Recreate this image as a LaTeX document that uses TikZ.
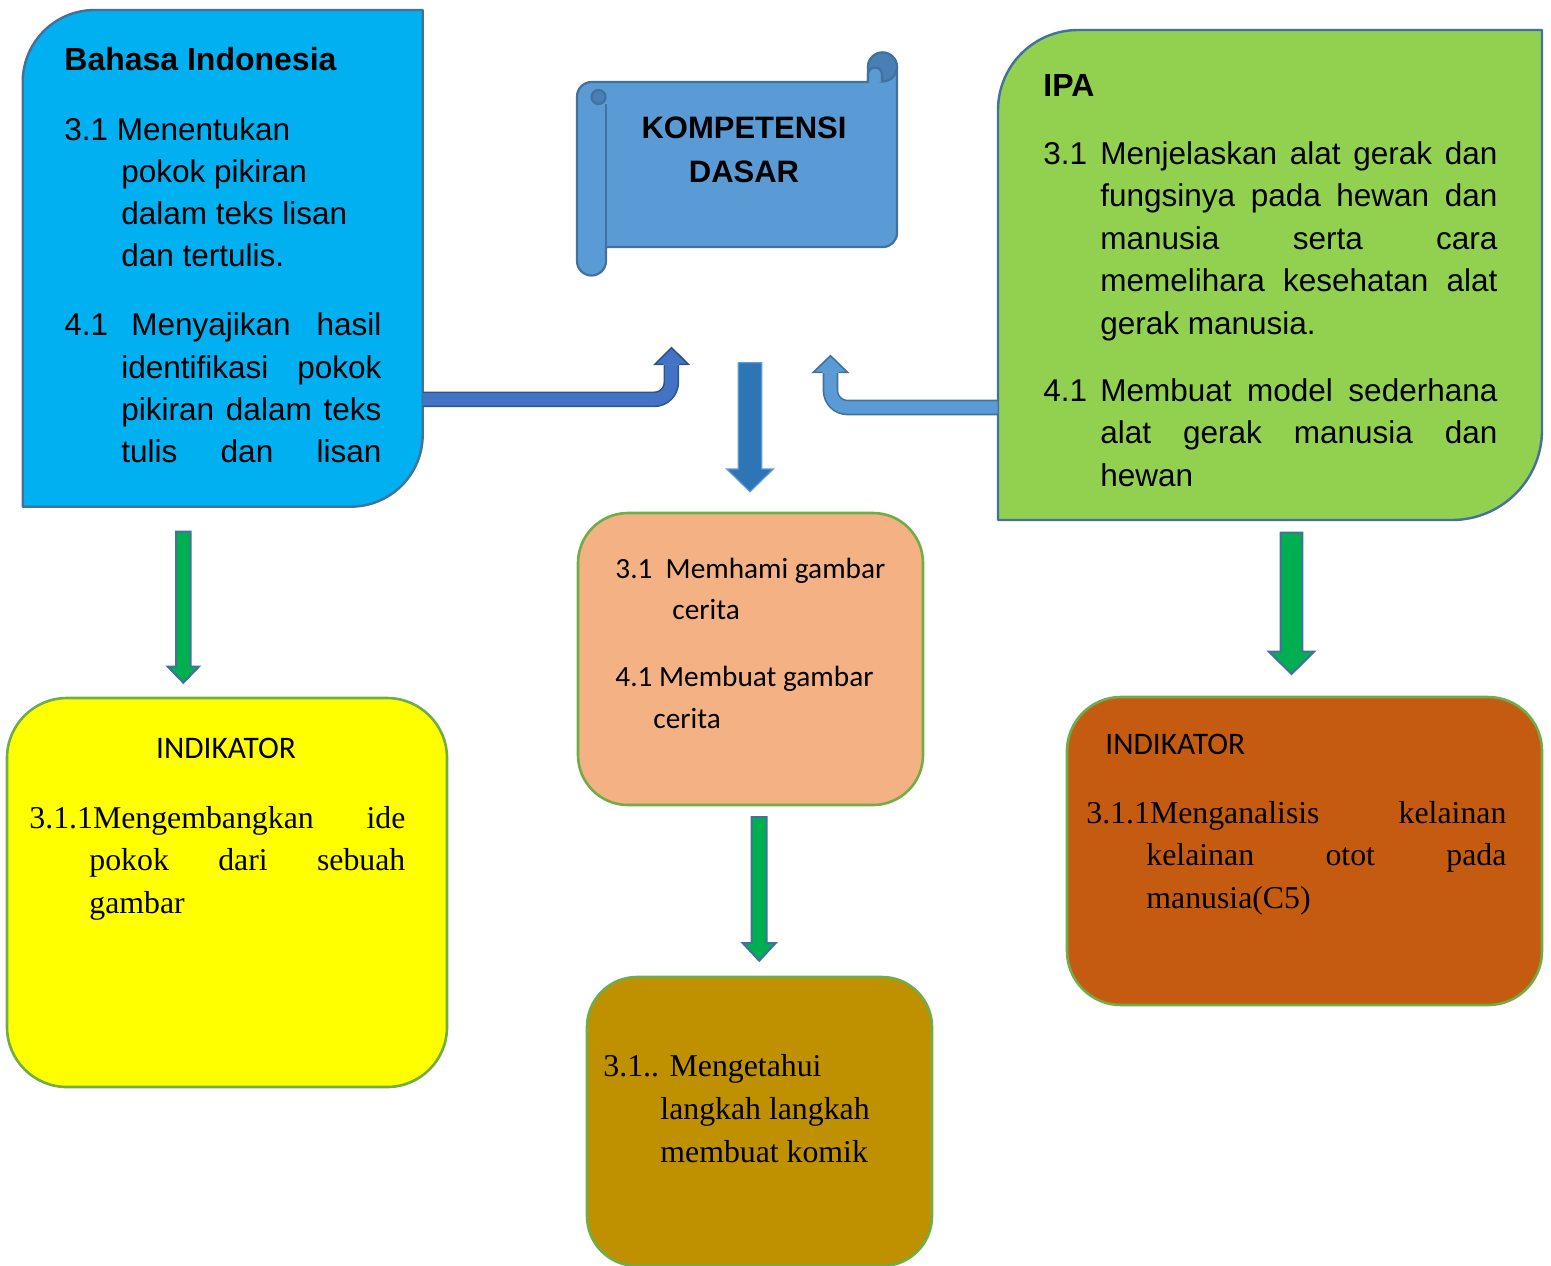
\documentclass[tikz,border=0pt]{standalone}
\usepackage{fontspec}
\setmainfont{Liberation Sans}
\newfontfamily\calfont{Carlito}
\newfontfamily\timfont{Liberation Serif}
\definecolor{bicyan}{RGB}{0,176,240}
\definecolor{ipagreen}{RGB}{146,208,80}
\definecolor{bdblue}{RGB}{65,113,156}
\definecolor{scrollfill}{RGB}{91,155,213}
\definecolor{scrolldark}{RGB}{72,128,182}
\definecolor{lfill}{RGB}{68,114,196}
\definecolor{lborder}{RGB}{47,82,143}
\definecolor{mfill}{RGB}{46,117,182}
\definecolor{mborder}{RGB}{91,155,213}
\definecolor{gfill}{RGB}{0,176,80}
\definecolor{boxgreen}{RGB}{112,173,71}
\definecolor{yel}{RGB}{255,255,0}
\definecolor{orng}{RGB}{244,177,131}
\definecolor{brwn}{RGB}{197,90,17}
\definecolor{gold}{RGB}{191,144,0}
\newcommand\cl[1]{\hbox to 0pt{\hss#1\hss}}
\newcommand\dnarrow[7]{\draw[#1] ({#2-#6},#3) -- ({#2+#6},#3) -- ({#2+#6},#4) -- ({#2+#7},#4) -- (#2,#5) -- ({#2-#7},#4) -- ({#2-#6},#4) -- cycle;}
\begin{document}
\begin{tikzpicture}[x=0.5pt,y=-0.5pt,
  ghost/.style={inner sep=0pt, draw=none},
  txt/.style={inner sep=0pt, anchor=base west},
  rbox/.style={draw=boxgreen, line width=1.3pt, rounded corners=#1, inner sep=0pt},
  bentarrow/.style={draw=#1, line width=0.8pt, double distance=6.2pt, rounded corners=8.5pt},
  garrow/.style={fill=gfill, draw=bdblue, line width=1pt, line join=miter},
  marrow/.style={fill=mfill, draw=mborder, line width=0.6pt, line join=miter},
  arial/.style={font=\fontsize{15.75}{21.2}\selectfont},
  calib/.style={font=\calfont\fontsize{14.65}{20.75}\selectfont},
  times/.style={font=\timfont\fontsize{15.9}{21.25}\selectfont}]
\path[use as bounding box, clip] (0,0) rectangle (1551,1265);

% ---------- Bahasa Indonesia box ----------
\path[fill=bicyan, draw=bdblue, line width=1.2pt, line join=round]
  (22.7,506.7) -- (22.7,82) .. controls (22.7,42.2) and (54.9,10) .. (94.7,10)
  -- (422.7,10) -- (422.7,434.7) .. controls (422.7,474.5) and (390.5,506.7) .. (350.7,506.7) -- cycle;
\node[ghost, minimum width=200pt, minimum height=248.35pt] (bi) at (222.7,258.35) {};
\node[txt, font=\bfseries\fontsize{16}{19}\selectfont] (bititle) at (64,70) {Bahasa Indonesia};
\node[txt, arial] (bitxt) at (64,140) {\vtop{\baselineskip=21.15pt
  \hbox{3.1 Menentukan}
  \hbox{\hskip28.5pt pokok pikiran}
  \hbox{\hskip28.5pt dalam teks lisan}
  \hbox{\hskip28.5pt dan tertulis.}
  \vskip13.35pt
  \hbox to 158.5pt{\hbox to 28.5pt{4.1\hfil}\hskip5pt Menyajikan\hfill hasil}
  \hbox to 158.5pt{\hskip28.5pt identifikasi\hfill pokok}
  \hbox to 158.5pt{\hskip28.5pt pikiran\hfill dalam\hfill teks}
  \hbox to 158.5pt{\hskip28.5pt tulis\hfill dan\hfill lisan}}};

% ---------- IPA box ----------
\path[fill=ipagreen, draw=bdblue, line width=1.2pt, line join=round]
  (998,520) -- (998,110) .. controls (998,65.8) and (1033.8,30) .. (1078,30)
  -- (1542,30) -- (1542,430) .. controls (1542,479.7) and (1501.7,520) .. (1452,520) -- cycle;
\node[ghost, minimum width=272pt, minimum height=245pt] (ipa) at (1270,275) {};
\node[txt, font=\bfseries\fontsize{16}{19}\selectfont] (ipatitle) at (1043,96) {IPA};
\node[txt, arial] (ipatxt) at (1043,164) {\vtop{\baselineskip=21.25pt
  \hbox to 227pt{\hbox to 28.5pt{3.1\hfil}Menjelaskan\hfill alat\hfill gerak\hfill dan}
  \hbox to 227pt{\hskip28.5pt fungsinya\hfill pada\hfill hewan\hfill dan}
  \hbox to 227pt{\hskip28.5pt manusia\hfill serta\hfill cara}
  \hbox to 227pt{\hskip28.5pt memelihara\hfill kesehatan\hfill alat}
  \hbox{\hskip28.5pt gerak manusia.}
  \vskip12.25pt
  \hbox to 227pt{\hbox to 28.5pt{4.1\hfil}Membuat\hfill model\hfill sederhana}
  \hbox to 227pt{\hskip28.5pt alat\hfill gerak\hfill manusia\hfill dan}
  \hbox{\hskip28.5pt hewan}}};

% ---------- Scroll: KOMPETENSI DASAR ----------
\path[fill=scrollfill, draw=bdblue, line width=1.1pt, line join=round]
  (606,247) -- (883,247) .. controls (890.7,247) and (897,240.7) .. (897,233)
  -- (897,67) arc[start angle=0, end angle=-180, radius=14.5] -- (868,82)
  -- (591.5,82) .. controls (583.5,82) and (577,88.5) .. (577,96.5)
  -- (577,261) arc[start angle=180, end angle=0, radius=14.5] -- cycle;
\draw[bdblue, line width=1.1pt] (606,104) -- (606,247);
\filldraw[fill=scrolldark, draw=bdblue, line width=1.1pt] (598.5,97) circle[radius=7];
\filldraw[fill=scrolldark, draw=bdblue, line width=1.1pt] (882.5,67) circle[radius=14.5];
\filldraw[fill=scrollfill, draw=bdblue, line width=1.1pt, line join=round]
  (868,82) -- (868,74.5) arc[start angle=180, end angle=360, radius=7] -- (882,82);
\node[ghost, minimum width=160pt, minimum height=111.5pt] (kd) at (737,163.5) {};
\node[anchor=base, inner sep=0pt, font=\bfseries\fontsize{15.5}{22}\selectfont] (kdtxt) at (744,138)
  {\vtop{\baselineskip=22pt \cl{KOMPETENSI}\cl{DASAR}}};

% ---------- rounded boxes ----------
\node[rbox=25pt, fill=orng, minimum width=172.5pt, minimum height=146pt] (kdbox) at (750.5,659) {};
\node[rbox=30pt, fill=yel, minimum width=220pt, minimum height=194.5pt] (ind1) at (227,892.5) {};
\node[rbox=27pt, fill=brwn, minimum width=237.5pt, minimum height=154pt] (ind2) at (1304.5,851) {};
\node[rbox=25pt, fill=gold, minimum width=172.5pt, minimum height=144.5pt] (ind3) at (759.5,1121.5) {};

\node[txt, calib] (kdboxtxt) at (615,578) {\vtop{\baselineskip=20.75pt
  \hbox{3.1\ \ Memhami gambar}
  \hbox{\hskip28.5pt cerita}
  \vskip12.75pt
  \hbox{4.1 Membuat gambar}
  \hbox{\hskip19pt cerita}}};

\node[anchor=base, inner sep=0pt, font=\calfont\fontsize{15.7}{19}\selectfont] (ind1title) at (226,758) {INDIKATOR};
\node[txt, times] (ind1txt) at (29,828) {\vtop{\baselineskip=21.25pt
  \hbox to 188pt{3.1.1Mengembangkan\hfill ide}
  \hbox to 188pt{\hskip30pt pokok\hfill dari\hfill sebuah}
  \hbox{\hskip30pt gambar}}};

\node[txt, font=\calfont\fontsize{15.7}{19}\selectfont] (ind2title) at (1105,754) {INDIKATOR};
\node[txt, times] (ind2txt) at (1086,823) {\vtop{\baselineskip=21.25pt
  \hbox to 210pt{3.1.1Menganalisis\hfill kelainan}
  \hbox to 210pt{\hskip30pt kelainan\hfill otot\hfill pada}
  \hbox{\hskip30pt manusia(C5)}}};

\node[txt, times] (ind3txt) at (603,1076) {\vtop{\baselineskip=21.5pt
  \hbox{3.1.. Mengetahui}
  \hbox{\hskip28.5pt langkah langkah}
  \hbox{\hskip28.5pt membuat komik}}};

% ---------- bent arrows ----------
\coordinate (a1c) at (671.3,399.3);
\coordinate (a1e) at (671.3,364.3);
\draw[bentarrow=lborder, double=lfill] (bi.east |- a1c) -- (a1c) -- (a1e);
\fill[lfill] (655,364.3) -- (671.5,347.7) -- (688.3,364.3) -- cycle;
\draw[lborder, line width=0.8pt, line join=miter] (663.5,364.3) -- (655,364.3) -- (671.5,347.7) -- (688.3,364.3) -- (679.1,364.3);

\coordinate (a2c) at (830.5,407.5);
\coordinate (a2e) at (830.5,372.3);
\draw[bentarrow=bdblue, double=scrollfill] (ipa.west |- a2c) -- (a2c) -- (a2e);
\fill[scrollfill] (813.3,372.3) -- (830.5,355.7) -- (847.5,372.3) -- cycle;
\draw[bdblue, line width=0.8pt, line join=miter] (822.7,372.3) -- (813.3,372.3) -- (830.5,355.7) -- (847.5,372.3) -- (838.3,372.3);

% ---------- down arrows ----------
\dnarrow{marrow}{750}{362.7}{469}{491.7}{11.7}{23.3}
\dnarrow{garrow}{183.35}{531.7}{666.7}{682.7}{7.35}{15.5}
\dnarrow{garrow}{759.2}{817}{943}{960.7}{7.5}{16.5}
\dnarrow{garrow}{1291.5}{532.7}{651.7}{674}{10.8}{22.5}
\end{tikzpicture}
\end{document}
